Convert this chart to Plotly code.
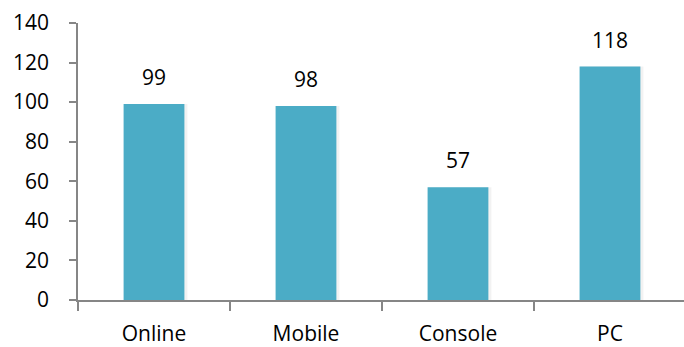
import plotly.graph_objects as go

categories = ["Online", "Mobile", "Console", "PC"]
values = [99, 98, 57, 118]
y_ticks = [0, 20, 40, 60, 80, 100, 120, 140]

bar_color = "#4BACC6"
axis_color = "#868686"
font_family = "Open Sans, Noto Sans, sans-serif"
font_size = 21

fig = go.Figure()

# soft drop shadow behind each bar
fig.add_trace(go.Bar(
    x=categories, y=values, width=0.415, offset=-0.195,
    marker=dict(color="rgba(0,0,0,0.05)", line=dict(width=0)),
    hoverinfo="skip", showlegend=False,
))
fig.add_trace(go.Bar(
    x=categories, y=values, width=0.4, offset=-0.2,
    marker=dict(color=bar_color, line=dict(width=0)),
    showlegend=False,
))

for cat, val in zip(categories, values):
    fig.add_annotation(
        x=cat, y=val, text=str(val), showarrow=False,
        yanchor="bottom", yshift=11,
        font=dict(family=font_family, size=font_size, color="#000000"),
    )

fig.update_layout(
    width=684, height=347,
    margin=dict(l=78, r=0, t=23, b=47),
    paper_bgcolor="white", plot_bgcolor="white",
    barmode="overlay",
    font=dict(family=font_family, size=font_size, color="#000000"),
)

fig.update_xaxes(
    type="category", range=[-0.5, 3.487],
    showline=True, linecolor=axis_color, linewidth=1.5,
    tickson="boundaries", ticks="outside", ticklen=9,
    tickcolor=axis_color, tickwidth=1.5,
    ticklabelstandoff=14,
    showgrid=False, zeroline=False,
    tickfont=dict(family=font_family, size=font_size, color="#000000"),
)

fig.update_yaxes(
    range=[0, 140], tickmode="array", tickvals=y_ticks,
    showline=True, linecolor=axis_color, linewidth=1.5,
    ticks="outside", ticklen=7, tickcolor=axis_color, tickwidth=1.5,
    ticklabelstandoff=16,
    showgrid=False, zeroline=False,
    tickfont=dict(family=font_family, size=font_size, color="#000000"),
)

fig.write_html("out.html")
